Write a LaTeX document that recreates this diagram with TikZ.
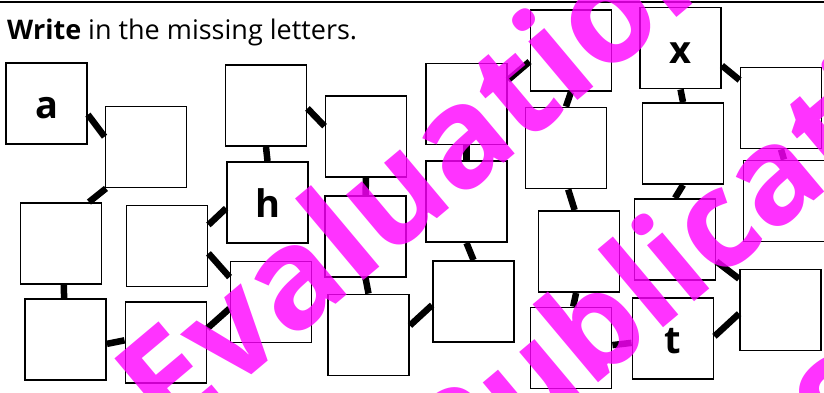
\documentclass[tikz,border=0pt]{standalone}
\usepackage{fontspec}
\setmainfont{Open Sans}
\usepackage{tikz}
\usetikzlibrary{positioning}
\definecolor{wmpink}{RGB}{255,0,255}

\begin{document}
\begin{tikzpicture}[
  x=1pt, y=-1pt,
  box/.style={draw, line width=1.9pt, fill=white, minimum width=81pt, minimum height=81pt,
    inner sep=0pt, font=\fontsize{38}{38}\selectfont\bfseries, text height=30pt, text depth=0pt},
  link/.style={line width=6.5pt},
  wm/.style={text=wmpink, text opacity=0.8, rotate=40, anchor=base west, inner sep=0pt,
    font=\fontsize{140}{140}\selectfont\bfseries}
]
  \useasboundingbox (0,0) rectangle (824,392);
  \clip (0,0) rectangle (824,392);

  % Heading
  \coordinate (ruleL) at (0,1.5);
  \coordinate (ruleR) at (824,1.5);
  \draw[line width=2pt] (ruleL) -- (ruleR);
  \node[anchor=base west, inner sep=0pt, font=\fontsize{27}{27}\selectfont] (head) at (7,39)
    {\textbf{Write} in the missing letters.};

  % Boxes, a to z
  \node[box] (a) at (46.5,103.5) {a};
  \node[box] (b) at (146,147) {};
  \node[box] (c) at (61,243.5) {};
  \node[box] (d) at (65.5,339.5) {};
  \node[box] (e) at (166,342.5) {};
  \node[box] (f) at (271,302) {};
  \node[box] (g) at (167,246) {};
  \node[box] (h) at (267.5,202.5) {h};
  \node[box] (i) at (266,105.5) {};
  \node[box] (j) at (366,136.5) {};
  \node[box] (k) at (365.5,236.5) {};
  \node[box] (l) at (368.5,335) {};
  \node[box] (m) at (473.5,301.5) {};
  \node[box] (n) at (466.5,201.5) {};
  \node[box] (o) at (466.5,104) {};
  \node[box] (p) at (571,50.5) {};
  \node[box] (q) at (566,148) {};
  \node[box] (r) at (579,251.5) {};
  \node[box] (s) at (571,348) {};
  \node[box] (t) at (673,338.5) {t};
  \node[box] (u) at (780.5,310) {};
  \node[box] (v) at (675,239.5) {};
  \node[box] (w) at (683,143.5) {};
  \node[box] (x) at (680.5,48) {x};
  \node[box] (y) at (781,108) {};
  \node[box] (z) at (784,201) {};

  % Links
  \draw[link] (a.-15) -- (b.166);
  \draw[link] (b.-134) -- (c.56);
  \draw[link] (c.-86) -- (d.92);
  \draw[link] (d.-6) -- (e.177);
  \draw[link] (e.19) -- (f.-171);
  \draw[link] (f.149) -- (g.-10);
  \draw[link] (g.27) -- (h.-172);
  \draw[link] (h.north) -- (i.south);
  \draw[link] (i.-4) -- (j.166);
  \draw[link] (j.south) -- (k.north);
  \draw[link] (k.south) -- (l.north);
  \draw[link] (l.13) -- (m.-175);
  \draw[link] (m.north) -- (n.south);
  \draw[link] (n.north) -- (o.south);
  \draw[link] (o.30) -- (p.-165);
  \draw[link] (p.south) -- (q.north);
  \draw[link] (q.-87) -- (r.96);
  \draw[link] (r.-94) -- (s.87);
  \draw[link] (s.4) -- (t.-174);
  \draw[link] (t.3) -- (u.185);
  \draw[link] (u.143) -- (v.-28);
  \draw[link] (v.north) -- (w.south);
  \draw[link] (w.north) -- (x.south);
  \draw[link] (x.-23) -- (y.146);
  \draw[link] (y.south) -- (z.north);

  % Watermark
  \node[wm] (eval) at (169,444) {Evaluation};
  \node[wm, font=\fontsize{134}{134}\selectfont\bfseries] (publ) at (458,500) {Publication};
  \node[wm] (smpl) at (847,470) {S};
\end{tikzpicture}
\end{document}
